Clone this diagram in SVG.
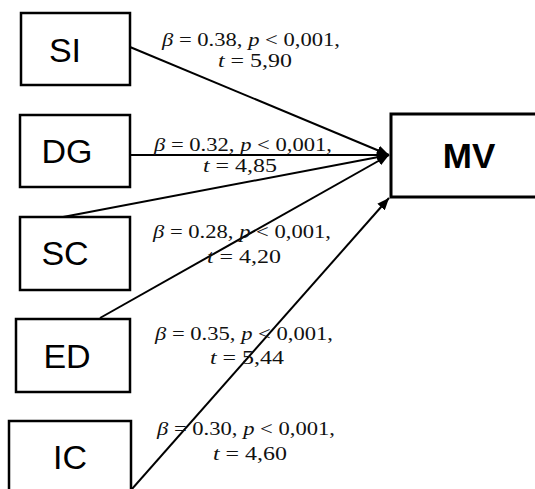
<svg xmlns="http://www.w3.org/2000/svg" width="535" height="489" viewBox="0 0 535 489">
<style>
.box{fill:#fff;stroke:#000;stroke-width:2.5}
.mv{fill:#fff;stroke:#000;stroke-width:3}
.nl{font-family:"Liberation Sans",Arial,sans-serif;font-size:34px;fill:#000;text-anchor:middle}
.mvl{font-family:"Liberation Sans",Arial,sans-serif;font-size:35px;font-weight:bold;fill:#000;text-anchor:middle}
.el{font-family:"Liberation Serif","Times New Roman",serif;font-size:19px;fill:#111;text-anchor:middle}
.el tspan.i{font-style:italic}
.c{stroke:#000;stroke-width:2;fill:none;marker-end:url(#ah)}
</style>
<defs>
<marker id="ah" viewBox="0 0 12 10" refX="12" refY="5" markerWidth="12" markerHeight="10" markerUnits="userSpaceOnUse" orient="auto">
<path d="M0,0 L12,5 L0,10 z" fill="#000"/>
</marker>
</defs>
<rect width="535" height="489" fill="#fff"/>
<g id="connectors">
<line class="c" x1="130" y1="47" x2="389" y2="155"/>
<line class="c" x1="131" y1="155" x2="389" y2="155"/>
<line class="c" x1="63" y1="217" x2="389" y2="155"/>
<line class="c" x1="100" y1="318" x2="389" y2="155"/>
<line class="c" x1="132" y1="489" x2="389" y2="198"/>
</g>
<g id="SI"><rect class="box" x="21" y="13" width="109" height="72"/><text class="nl" x="65" y="62">SI</text></g>
<g id="DG"><rect class="box" x="20" y="115" width="110" height="72"/><text class="nl" x="67" y="163">DG</text></g>
<g id="SC"><rect class="box" x="20" y="217" width="110" height="73"/><text class="nl" x="65" y="265">SC</text></g>
<g id="ED"><rect class="box" x="16" y="319" width="114" height="73"/><text class="nl" x="67" y="368">ED</text></g>
<g id="IC"><rect class="box" x="9" y="421" width="122" height="80"/><text class="nl" x="70" y="469">IC</text></g>
<g id="MV"><rect class="mv" x="391" y="114" width="160" height="83"/><text class="mvl" x="469" y="168">MV</text></g>
<g id="labels">
<text class="el" x="251" y="46" textLength="178" lengthAdjust="spacingAndGlyphs"><tspan class="i">β</tspan> = 0.38, <tspan class="i">p</tspan> &lt; 0,001,</text>
<text class="el" x="255" y="67" textLength="74" lengthAdjust="spacingAndGlyphs"><tspan class="i">t</tspan> = 5,90</text>
<text class="el" x="243" y="151" textLength="178" lengthAdjust="spacingAndGlyphs"><tspan class="i">β</tspan> = 0.32, <tspan class="i">p</tspan> &lt; 0,001,</text>
<text class="el" x="240" y="172" textLength="74" lengthAdjust="spacingAndGlyphs"><tspan class="i">t</tspan> = 4,85</text>
<text class="el" x="242" y="238" textLength="178" lengthAdjust="spacingAndGlyphs"><tspan class="i">β</tspan> = 0.28, <tspan class="i">p</tspan> &lt; 0,001,</text>
<text class="el" x="244" y="263" textLength="74" lengthAdjust="spacingAndGlyphs"><tspan class="i">t</tspan> = 4,20</text>
<text class="el" x="244" y="340" textLength="178" lengthAdjust="spacingAndGlyphs"><tspan class="i">β</tspan> = 0.35, <tspan class="i">p</tspan> &lt; 0,001,</text>
<text class="el" x="247" y="364" textLength="74" lengthAdjust="spacingAndGlyphs"><tspan class="i">t</tspan> = 5,44</text>
<text class="el" x="246" y="435" textLength="178" lengthAdjust="spacingAndGlyphs"><tspan class="i">β</tspan> = 0.30, <tspan class="i">p</tspan> &lt; 0,001,</text>
<text class="el" x="250" y="460" textLength="74" lengthAdjust="spacingAndGlyphs"><tspan class="i">t</tspan> = 4,60</text>
</g>
</svg>
